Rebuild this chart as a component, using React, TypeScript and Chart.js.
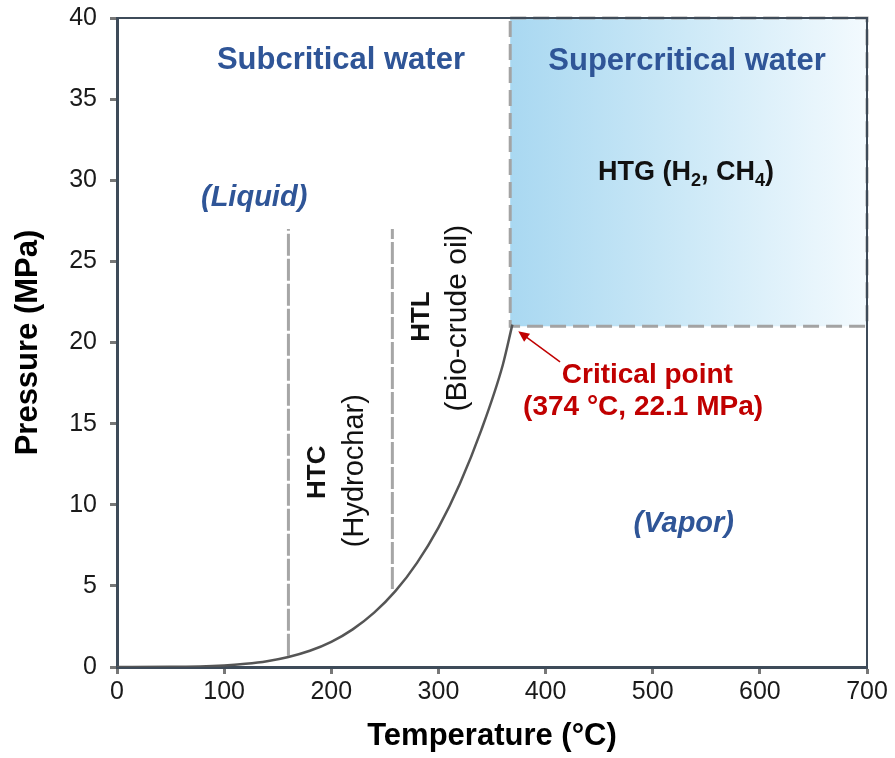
import React, { useEffect, useRef } from "react";
import { Chart, registerables } from "chart.js";

Chart.register(...registerables);

// Saturation (vapor-pressure) curve of water
const curveT = [0, 50, 100, 120, 140, 160, 180, 200, 220, 240, 260, 280, 300, 320, 340, 360, 369];
const curveP = [0.0006, 0.012, 0.1, 0.2, 0.36, 0.62, 1.0, 1.55, 2.32, 3.35, 4.69, 6.42, 8.59, 11.3, 14.6, 18.6, 21.1];

// Process boundary lines (dashed verticals)
const htcLineT = [160, 160];
const htcLineP = [0.7, 27];
const htlLineT = [257, 257];
const htlLineP = [4.8, 27];

// Supercritical region
const boxT = [367, 700];
const boxP = [21, 40];

// Axis ranges / ticks
const xRange = [0, 700];
const yRange = [0, 40];
const xStep = 100;
const yStep = 5;

// Annotation texts [x, y] in data units
const labelTexts = [
  "Subcritical water",
  "Supercritical water",
  "(Liquid)",
  "(Vapor)",
  "HTC",
  "(Hydrochar)",
  "HTL",
  "(Bio-crude oil)",
  "Critical point",
  "(374 °C, 22.1 MPa)",
];
const labelT = [209, 532, 128, 529, 187, 222, 284.5, 318, 495, 491];
const labelP = [37.4, 37.35, 28.9, 8.8, 12.0, 12.1, 21.6, 21.5, 18.0, 16.0];

const htgT = 531;
const htgP = 30.5;

const arrowT = [413.5, 374.5];
const arrowP = [18.8, 20.7];

const FONT = "'Liberation Sans', Arial, sans-serif";
const BLUE = "#2f5597";
const RED = "#c00000";

function toPts(xs: number[], ys: number[]) {
  return xs.map((x, i) => ({ x, y: ys[i] }));
}

const overlayPlugin = {
  id: "overlay",
  beforeDatasetsDraw(chart: any) {
    const { ctx, scales } = chart;
    const xs = scales.x;
    const ys = scales.y;
    const x0 = xs.getPixelForValue(boxT[0]);
    const x1 = xs.getPixelForValue(boxT[1]);
    const y0 = ys.getPixelForValue(boxP[1]);
    const y1 = ys.getPixelForValue(boxP[0]);
    ctx.save();
    const g = ctx.createLinearGradient(x0, 0, x1, 0);
    g.addColorStop(0, "#a9d8f1");
    g.addColorStop(0.5, "#cde9f7");
    g.addColorStop(1, "#f3fafe");
    ctx.fillStyle = g;
    ctx.fillRect(x0, y0, x1 - x0, y1 - y0);
    ctx.strokeStyle = "#a3a3a3";
    ctx.lineWidth = 3;
    ctx.setLineDash([16, 7]);
    ctx.strokeRect(x0, y0, x1 - x0, y1 - y0);
    ctx.restore();
  },
  afterDatasetsDraw(chart: any) {
    const { ctx, scales, chartArea } = chart;
    const xs = scales.x;
    const ys = scales.y;
    ctx.save();
    // top & right frame
    ctx.strokeStyle = "#3e4b59";
    ctx.lineWidth = 2;
    ctx.beginPath();
    ctx.moveTo(chartArea.left, chartArea.top);
    ctx.lineTo(chartArea.right, chartArea.top);
    ctx.lineTo(chartArea.right, chartArea.bottom);
    ctx.stroke();

    ctx.textAlign = "center";
    ctx.textBaseline = "middle";
    const styles = [
      { font: `bold 31px ${FONT}`, color: BLUE, rot: 0 },
      { font: `bold 31px ${FONT}`, color: BLUE, rot: 0 },
      { font: `italic bold 29px ${FONT}`, color: BLUE, rot: 0 },
      { font: `italic bold 29px ${FONT}`, color: BLUE, rot: 0 },
      { font: `bold 26px ${FONT}`, color: "#111", rot: -Math.PI / 2 },
      { font: `29px ${FONT}`, color: "#111", rot: -Math.PI / 2 },
      { font: `bold 26px ${FONT}`, color: "#111", rot: -Math.PI / 2 },
      { font: `30px ${FONT}`, color: "#111", rot: -Math.PI / 2 },
      { font: `bold 28px ${FONT}`, color: RED, rot: 0 },
      { font: `bold 28px ${FONT}`, color: RED, rot: 0 },
    ];
    labelTexts.forEach((t, i) => {
      const px = xs.getPixelForValue(labelT[i]);
      const py = ys.getPixelForValue(labelP[i]);
      const s = styles[i];
      ctx.save();
      ctx.translate(px, py);
      ctx.rotate(s.rot);
      ctx.font = s.font;
      ctx.fillStyle = s.color;
      ctx.fillText(t, 0, 0);
      ctx.restore();
    });

    // HTG (H2, CH4) with subscripts
    const segs: [string, boolean][] = [
      ["HTG (H", false],
      ["2", true],
      [", CH", false],
      ["4", true],
      [")", false],
    ];
    const big = `bold 27px ${FONT}`;
    const small = `bold 18px ${FONT}`;
    let total = 0;
    segs.forEach(([t, sub]) => {
      ctx.font = sub ? small : big;
      total += ctx.measureText(t).width;
    });
    let cx = xs.getPixelForValue(htgT) - total / 2;
    const cy = ys.getPixelForValue(htgP);
    ctx.textAlign = "left";
    ctx.fillStyle = "#111";
    segs.forEach(([t, sub]) => {
      ctx.font = sub ? small : big;
      ctx.fillText(t, cx, sub ? cy + 9 : cy);
      cx += ctx.measureText(t).width;
    });

    // arrow
    const ax0 = xs.getPixelForValue(arrowT[0]);
    const ay0 = ys.getPixelForValue(arrowP[0]);
    const ax1 = xs.getPixelForValue(arrowT[1]);
    const ay1 = ys.getPixelForValue(arrowP[1]);
    ctx.strokeStyle = RED;
    ctx.fillStyle = RED;
    ctx.lineWidth = 1.5;
    ctx.setLineDash([]);
    const ang = Math.atan2(ay1 - ay0, ax1 - ax0);
    ctx.beginPath();
    ctx.moveTo(ax0, ay0);
    ctx.lineTo(ax1 - 8 * Math.cos(ang), ay1 - 8 * Math.sin(ang));
    ctx.stroke();
    ctx.beginPath();
    ctx.moveTo(ax1, ay1);
    ctx.lineTo(ax1 - 11 * Math.cos(ang) + 5 * Math.sin(ang), ay1 - 11 * Math.sin(ang) - 5 * Math.cos(ang));
    ctx.lineTo(ax1 - 11 * Math.cos(ang) - 5 * Math.sin(ang), ay1 - 11 * Math.sin(ang) + 5 * Math.cos(ang));
    ctx.closePath();
    ctx.fill();
    ctx.restore();
  },
};

export default function App() {
  const ref = useRef<HTMLCanvasElement | null>(null);
  useEffect(() => {
    document.body.style.margin = "0";
    if (!ref.current) return;
    const chart = new Chart(ref.current, {
      type: "scatter",
      data: {
        datasets: [
          {
            data: toPts(curveT, curveP),
            showLine: true,
            borderColor: "#555555",
            borderWidth: 2.5,
            pointRadius: 0,
            cubicInterpolationMode: "monotone",
          } as any,
          {
            data: toPts(htcLineT, htcLineP),
            showLine: true,
            borderColor: "#a6a6a6",
            borderWidth: 3,
            borderDash: [22, 3],
            pointRadius: 0,
          },
          {
            data: toPts(htlLineT, htlLineP),
            showLine: true,
            borderColor: "#a6a6a6",
            borderWidth: 3,
            borderDash: [22, 3],
            pointRadius: 0,
          },
        ],
      },
      options: {
        animation: false,
        responsive: false,
        layout: { padding: { top: 18, right: 28, left: 0, bottom: 0 } },
        plugins: { legend: { display: false }, tooltip: { enabled: false } },
        scales: {
          x: {
            type: "linear",
            min: xRange[0],
            max: xRange[1],
            afterFit: (s: any) => {
              s.height = 91;
              s.paddingLeft = 0;
              s.paddingRight = 0;
            },
            ticks: {
              stepSize: xStep,
              color: "#1a1a1a",
              font: { family: FONT, size: 25 },
              padding: 3,
            },
            grid: {
              drawOnChartArea: false,
              drawTicks: true,
              tickLength: 7,
              tickWidth: 3,
              tickColor: "#777",
            },
            border: { display: true, color: "#3e4b59", width: 3 },
            title: {
              display: true,
              text: "Temperature (°C)",
              color: "#000",
              font: { family: FONT, size: 31, weight: "bold" },
              padding: { top: 0, bottom: 3 },
            },
          },
          y: {
            type: "linear",
            min: yRange[0],
            max: yRange[1],
            afterFit: (s: any) => {
              s.width = 117;
              s.paddingTop = 0;
              s.paddingBottom = 0;
            },
            ticks: {
              stepSize: yStep,
              color: "#1a1a1a",
              font: { family: FONT, size: 25 },
              padding: 13,
            },
            grid: {
              drawOnChartArea: false,
              drawTicks: true,
              tickLength: 7,
              tickWidth: 3,
              tickColor: "#777",
            },
            border: { display: true, color: "#3e4b59", width: 3 },
            title: {
              display: true,
              text: "Pressure (MPa)",
              color: "#000",
              font: { family: FONT, size: 31, weight: "bold" },
              padding: { top: 10, bottom: 0 },
            },
          },
        },
      },
      plugins: [overlayPlugin],
    });
    return () => chart.destroy();
  }, []);
  return (
    <div style={{ width: 895, height: 758 }}>
      <canvas ref={ref} width={895} height={758} style={{ display: "block" }} />
    </div>
  );
}
